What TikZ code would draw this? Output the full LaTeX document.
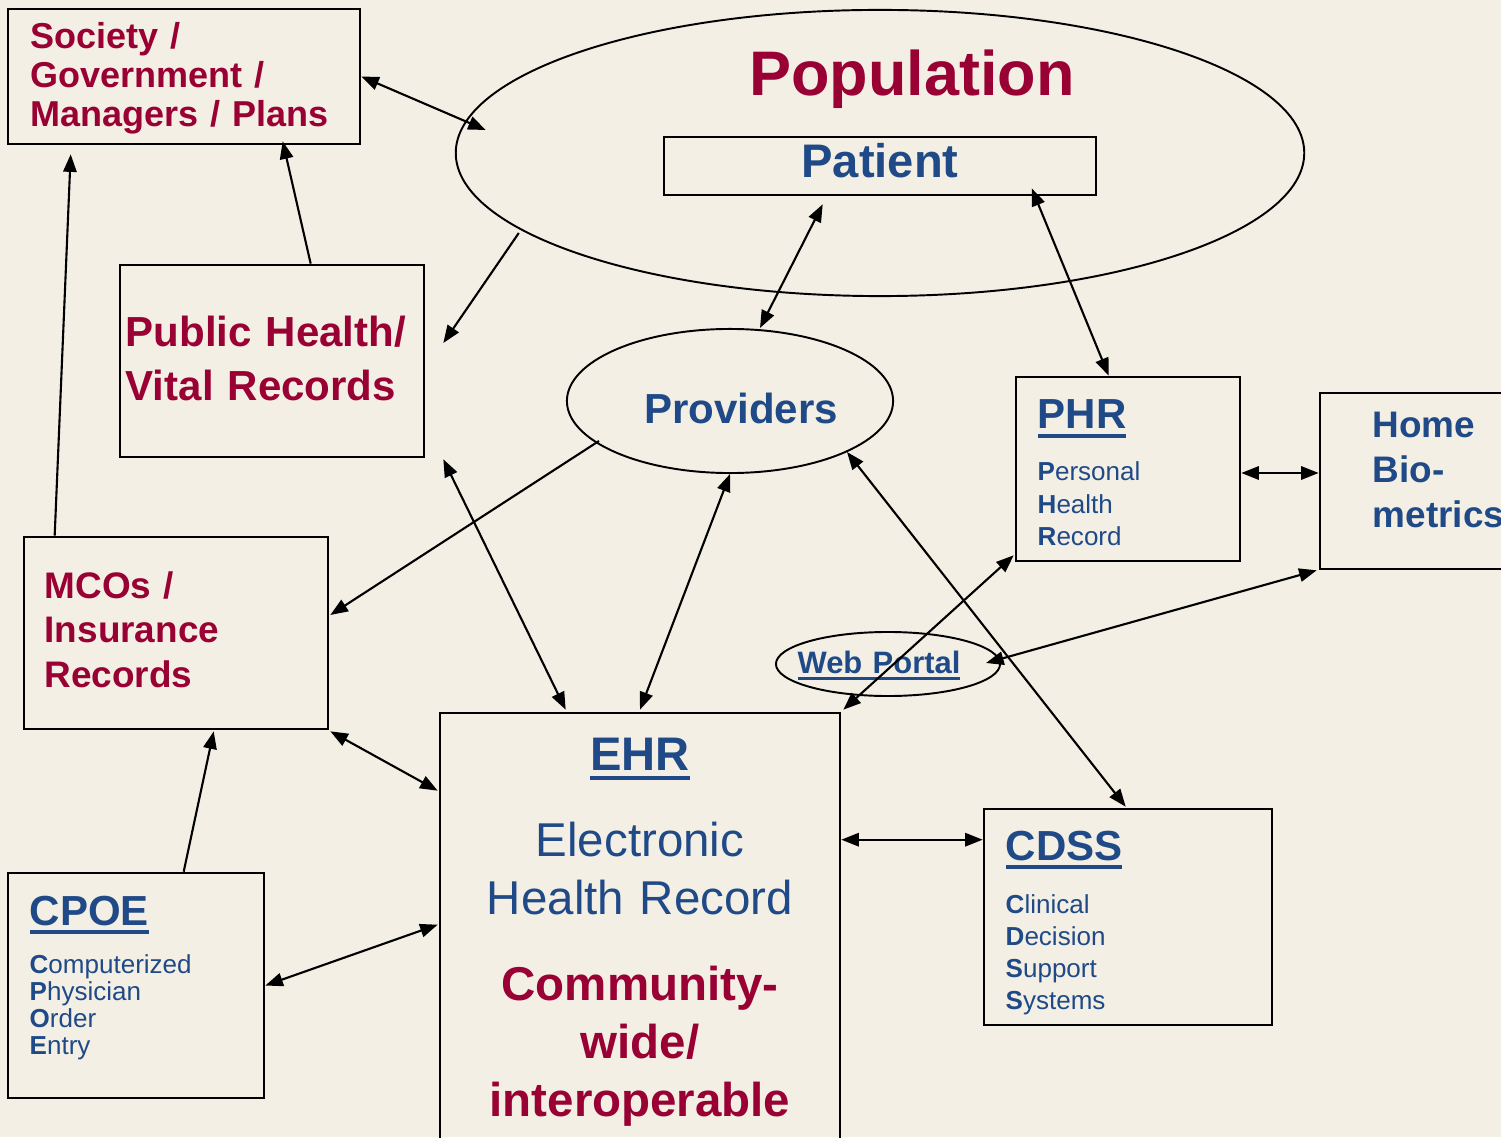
\documentclass[tikz,border=0pt]{standalone}
\usepackage{fontspec}
\setmainfont{Liberation Sans}
\usetikzlibrary{arrows.meta,shapes.geometric,fit,calc}

\definecolor{paper}{RGB}{243,239,228}
\definecolor{wine}{RGB}{153,0,51}
\definecolor{navy}{RGB}{31,74,135}

% font size / baseline skip in pt
\newcommand\fs[2]{\fontsize{#1pt}{#2pt}\selectfont}
% thick underline used for the acronyms
\newcommand\ulbar[1]{\setbox0\hbox{#1}\rlap{\rule[-0.21em]{\wd0}{0.08em}}\box0}

\begin{document}
\begin{tikzpicture}[x=0.01cm,y=-0.01cm,
  box/.style={draw, line width=0.75pt, inner sep=0pt},
  oval/.style={draw, ellipse, line width=0.55pt, inner sep=0pt},
  con/.style={line width=0.6pt, >={Triangle[length=5pt,width=3.8pt]}},
  txt/.style={inner sep=0pt, anchor=base west, text width=#1, align=left},
  ctxt/.style={inner sep=0pt, anchor=base, text width=#1, align=center},
  redb/.style 2 args={text=wine, font={\bfseries\fs{#1}{#2}}},
  blueb/.style 2 args={text=navy, font={\bfseries\fs{#1}{#2}}},
  blue/.style 2 args={text=navy, font={\fs{#1}{#2}}}]

\fill[paper] (0,0) rectangle (1501,1137);
\useasboundingbox (0,0) rectangle (1501,1137);
\clip (0,0) rectangle (1501,1137);

% ---------- shapes ----------
\node[box, fit={(8,9) (360,144)}] (soc) {};
\node[oval, minimum width=8.48cm, minimum height=2.86cm] (pop) at (880,153) {};
\node[box, fit={(664,137) (1096,195)}] (pat) {};
\node[box, fit={(120,265) (424,457)}] (ph) {};
\node[oval, minimum width=3.26cm, minimum height=1.44cm] (prov) at (730,401) {};
\node[box, fit={(1016,377) (1240,561)}] (phr) {};
\node[box, fit={(1320,393) (1530,569)}] (home) {};
\node[box, fit={(24,537) (328,729)}] (mco) {};
\node[oval, minimum width=2.24cm, minimum height=0.64cm] (web) at (888,664) {};
\node[box, fit={(440,713) (840,1160)}] (ehr) {};
\node[box, fit={(984,809) (1272,1025)}] (cdss) {};
\node[box, fit={(8,873) (264,1098)}] (cpoe) {};

% ---------- texts ----------
\node[txt=4cm, redb={10.24}{10.95}] (socT) at (30,49) {Society /\\Government /\\Managers / Plans};
\node[ctxt=5cm, redb={17.9}{20}] (popT) at (912,96) {Population};
\node[ctxt=4cm, blueb={13.4}{15}] (patT) at (880,178) {Patient};
\node[txt=3.2cm, redb={11.95}{15.1}] (phT) at (125,347) {Public Health/\\Vital Records};
\node[ctxt=3cm, blueb={11.95}{14}] (provT) at (741,423) {Providers};

\node[txt=2cm, blueb={11.95}{14}] (phrT) at (1037,429) {\ulbar{PHR}};
\node[txt=2cm, blue={7.4}{9.1}] (phrB) at (1037,481) {\textbf{P}ersonal\\\textbf{H}ealth\\\textbf{R}ecord};

\node[txt=2cm, blueb={10.5}{12.66}] (homeT) at (1372,438) {Home\\Bio-\\metrics};
\node[txt=3cm, redb={10.5}{12.66}] (mcoT) at (44,598) {MCOs /\\Insurance\\Records};
\node[ctxt=2.2cm, blueb={8.8}{10}] (webT) at (879,673) {\ulbar{Web Portal}};

\node[ctxt=4cm, blueb={13.4}{15}] (ehrT) at (640,770) {\ulbar{EHR}};
\node[ctxt=4cm, blue={13.5}{16.5}] (ehrB) at (640,856) {Electronic\\Health Record};
\node[ctxt=4cm, redb={13.5}{16.6}] (ehrC) at (640,1000) {Community-\\wide/\\interoperable};

\node[txt=2.5cm, blueb={11.95}{14}] (cdssT) at (1005,860) {\ulbar{CDSS}};
\node[txt=2.5cm, blue={7.4}{9.1}] (cdssB) at (1005,913) {\textbf{C}linical\\\textbf{D}ecision\\\textbf{S}upport\\\textbf{S}ystems};

\node[txt=2.3cm, blueb={11.95}{14}] (cpoeT) at (29,925) {\ulbar{CPOE}};
\node[txt=2.3cm, blue={7.4}{7.7}] (cpoeB) at (29,973) {\textbf{C}omputerized\\\textbf{P}hysician\\\textbf{O}rder\\\textbf{E}ntry};

% ---------- connectors ----------
\draw[con,<->] (soc.east) -- ($(pop.west)+(31,-23)$);
\draw[con,->] ($(ph.north west)+(192,0)$) -- ($(soc.south west)+(276,-4)$);
\draw[con,->] ($(mco.north west)+(32,0)$) -- ($(soc.south west)+(64,9)$);
\draw[con,->] ($(pop.west)+(64,80)$) -- ($(ph.east)+(18,-18)$);
\draw[con,<->] ($(pat.south west)+(160,8)$) -- ($(prov.north)+(30,0)$);
\draw[con,<->] ($(pat.south west)+(369,-8)$) -- ($(phr.north west)+(94,0)$);
\draw[con,->] ($(prov.west)+(33,40)$) -- ($(mco.east)+(1,-18)$);
\draw[con,<->] ($(ph.south east)+(18,1)$) -- ($(ehr.north west)+(127,-2)$);
\draw[con,<->] (prov.south) -- ($(ehr.north)+(0,-2)$);
\draw[con,<->] ($(prov.center)+(117,51)$) -- ($(cdss.north west)+(143,-1)$);
\draw[con,<->] ($(phr.south west)+(-1,-7)$) -- ($(ehr.north east)+(2,-2)$);
\draw[con,<->] ($(home.south west)+(-2,0)$) -- ($(web.east)+(-15,-1)$);
\draw[con,<->] ($(phr.east)+(0,4)$) -- ($(home.west)+(0,-8)$);
\draw[con,<->] ($(mco.south east)+(1,1)$) -- ($(ehr.north west)+(-1,79)$);
\draw[con,->] ($(cpoe.north west)+(177,0)$) -- ($(mco.south west)+(191,1)$);
\draw[con,<->] (cpoe.east) -- ($(ehr.north west)+(-1,213)$);
\draw[con,<->] ($(ehr.north east)+(0,128)$) -- ($(cdss.north west)+(0,32)$);

\end{tikzpicture}
\end{document}
